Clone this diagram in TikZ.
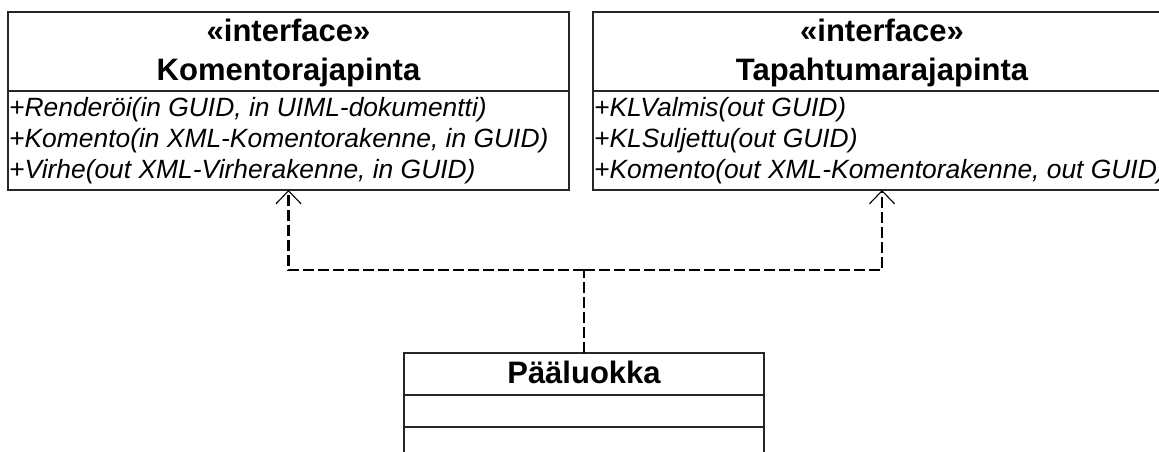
\documentclass[tikz,border=0pt]{standalone}
\usepackage{fontspec}
\setmainfont{Liberation Sans}
\usetikzlibrary{arrows.meta}
\begin{document}
\begin{tikzpicture}[x=1pt,y=-1pt,
  umlbox/.style={draw=black!85, line width=1.3pt, inner sep=0pt, outer sep=0pt},
  compartment/.style={draw=black!85, line width=1.3pt},
  titletext/.style={font=\fontsize{31}{36}\selectfont\bfseries, anchor=base, inner sep=0pt},
  optext/.style={font=\fontsize{26.4}{31}\selectfont\itshape, anchor=base west, inner sep=0pt},
  realize/.style={draw=black, line width=2.9pt, dash pattern=on 11pt off 4pt},
  realizetip/.style={-{Straight Barb[length=13pt,width=25pt,line width=1.1pt]}}]
  % page area
  \clip (0,0) rectangle (1159,452);

  % interface Komentorajapinta
  \node[umlbox, minimum width=561pt, minimum height=178pt] (komento) at (288.5,101) {};
  \draw[compartment] (komento.west |- 0,91) -- (komento.east |- 0,91);
  \node[titletext] (komentoStereo) at (288.5,41.7) {«interface»};
  \node[titletext] (komentoName) at (288.5,81) {Komentorajapinta};
  \node[optext] (komentoOp1) at (9,116) {+Renderöi(in GUID, in UIML-dokumentti)};
  \node[optext] (komentoOp2) at (9,147) {+Komento(in XML-Komentorakenne, in GUID)};
  \node[optext] (komentoOp3) at (9,178) {+Virhe(out XML-Virherakenne, in GUID)};

  % interface Tapahtumarajapinta
  \node[umlbox, minimum width=578pt, minimum height=178pt] (tapahtuma) at (882,101) {};
  \draw[compartment] (tapahtuma.west |- 0,91) -- (tapahtuma.east |- 0,91);
  \node[titletext] (tapahtumaStereo) at (882,41.7) {«interface»};
  \node[titletext] (tapahtumaName) at (882,81) {Tapahtumarajapinta};
  \node[optext] (tapahtumaOp1) at (594,116) {+KLValmis(out GUID)};
  \node[optext] (tapahtumaOp2) at (594,147) {+KLSuljettu(out GUID)};
  \node[optext] (tapahtumaOp3) at (594,178) {+Komento(out XML-Komentorakenne, out GUID)};

  % class Pääluokka
  \node[umlbox, minimum width=360pt, minimum height=127pt] (paaluokka) at (584,416.5) {};
  \draw[compartment] (paaluokka.west |- 0,395) -- (paaluokka.east |- 0,395);
  \draw[compartment] (paaluokka.west |- 0,427) -- (paaluokka.east |- 0,427);
  \node[titletext] (paaluokkaName) at (584,383) {Pääluokka};

  % realization connectors
  \coordinate (junction) at (584,270);
  \draw[realize] (paaluokka.north) -- (junction);
  \draw[realize, realizetip] (junction) -| (komento.south);
  \draw[realize, realizetip] (junction) -| (tapahtuma.south);
\end{tikzpicture}
\end{document}
